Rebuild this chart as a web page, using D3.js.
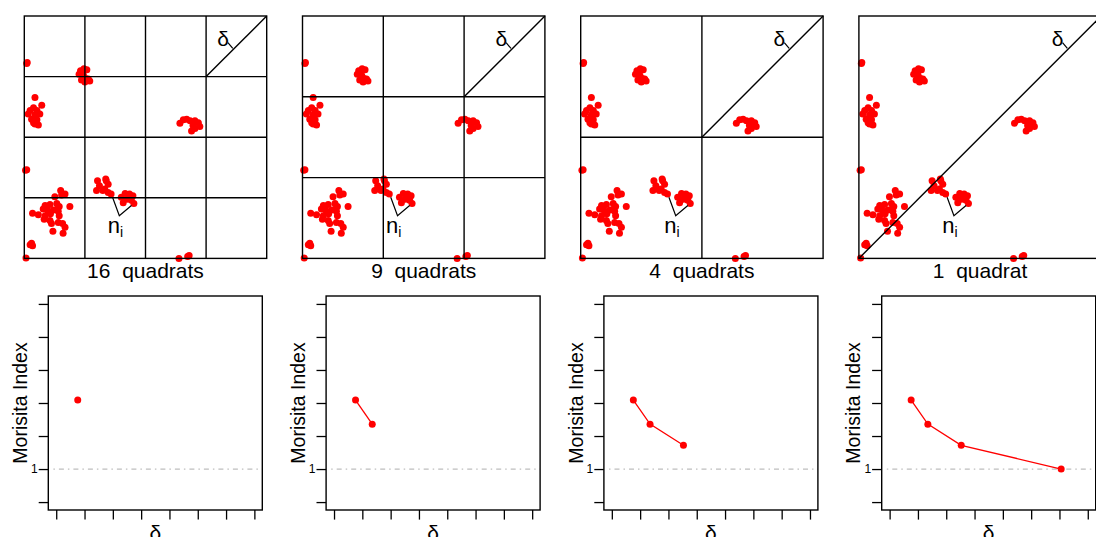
<!DOCTYPE html>
<html>
<head>
<meta charset="utf-8">
<script src="https://cdn.jsdelivr.net/npm/d3@7/dist/d3.min.js"></script>
<style>
  body { margin: 0; background: #fff; }
  svg { display: block; font-family: "Liberation Sans", Arial, sans-serif; }
  .title { white-space: pre; }
</style>
</head>
<body>
<svg id="chart" width="1096" height="537"></svg>
<script>
// quadrat sizes shown in each column
var quadratCounts = [16, 9, 4, 1];
var quadratLabels = ["16  quadrats", "9  quadrats", "4  quadrats", "1  quadrat"];

// point pattern (field is 5 x 5 units)
var ptsX = [0.06, 0.05,
  1.16, 1.23, 1.29, 1.13, 1.22, 1.27, 1.32, 1.18, 1.25, 1.35,
  0.22, 0.36, 0.19, 0.12, 0.26, 0.08, 0.22, 0.32, 0.15, 0.26, 0.22, 0.29, 0.19,
  0.05, 0.025,
  0.63, 0.75, 0.84, 0.77, 0.43, 0.53, 0.67, 0.72, 0.94, 0.39, 0.49, 0.60, 0.70, 0.17,
  0.29, 0.43, 0.54, 0.72, 0.41, 0.53, 0.56, 0.70, 0.79, 0.84, 0.59, 0.80, 0.68, 0.46,
  0.15, 0.17, 0.12, 0.035,
  1.51, 1.55, 1.66, 1.69, 1.62, 1.73, 1.79, 1.73, 1.49, 1.68,
  2.00, 2.08, 2.17, 2.24, 2.12, 2.04, 2.21, 2.26,
  3.21, 3.28, 3.35, 3.42, 3.52, 3.59, 3.62, 3.48, 3.45, 3.52,
  3.19, 3.37, 3.40];
var ptsY = [4.04, 4.02,
  3.87, 3.91, 3.89, 3.80, 3.78, 3.71, 3.70, 3.68, 3.64, 3.66,
  3.32, 3.16, 3.11, 3.05, 3.05, 2.98, 2.96, 2.98, 2.87, 2.86, 2.77, 2.75, 2.80,
  1.83, 1.82,
  1.27, 1.40, 1.33, 1.31, 1.09, 1.11, 1.13, 1.07, 1.07, 1.02, 0.98, 1.00, 0.97, 0.93,
  0.90, 0.88, 0.92, 0.88, 0.81, 0.78, 0.72, 0.74, 0.72, 0.64, 0.56, 0.52, 1.02, 1.04,
  0.31, 0.26, 0.28, 0.01,
  1.60, 1.50, 1.43, 1.60, 1.40, 1.36, 1.33, 1.53, 1.40, 1.64,
  1.26, 1.34, 1.33, 1.29, 1.22, 1.15, 1.20, 1.13,
  2.79, 2.86, 2.87, 2.84, 2.84, 2.80, 2.72, 2.74, 2.63, 2.68,
  0.0, 0.04, 0.06];

// quadrat diagonal (delta) and Morisita index for 16, 9, 4, 1 quadrats
var deltaValues = [1.76, 2.35, 3.53, 7.06];
var morisitaValues = [3.09, 2.36, 1.72, 1.0];

var xTickValues = [1, 2, 3, 4, 5, 6, 7, 8];
var yTickValues = [0, 1, 2, 3, 4, 5, 6];
var yTickLabels = ["", "1", "", "", "", "", ""];

var svg = d3.select("#chart");
var fieldSize = 5;
var topSize = 242.4, topY = 16;
var botSize = 214, botY = 296;

quadratCounts.forEach(function(n, i) {
  // ---------- top: point map with quadrat grid ----------
  var left = 24.3 + i * 278.2;
  var x = d3.scaleLinear().domain([0, fieldSize]).range([left, left + topSize]);
  var y = d3.scaleLinear().domain([0, fieldSize]).range([topY + topSize, topY]);
  var g = svg.append("g");

  var side = fieldSize / Math.sqrt(n);
  var cuts = d3.range(1, Math.sqrt(n)).map(function(k) { return k * side; });

  g.selectAll(".pt").data(ptsX).enter().append("circle")
    .attr("cx", function(d) { return x(d); })
    .attr("cy", function(d, j) { return y(ptsY[j]); })
    .attr("r", 3.5)
    .attr("fill", "#ff0000");

  g.selectAll(".vl").data(cuts).enter().append("line")
    .attr("x1", function(d) { return x(d); }).attr("x2", function(d) { return x(d); })
    .attr("y1", y(0)).attr("y2", y(fieldSize))
    .attr("stroke", "#000").attr("stroke-width", 1.4);
  g.selectAll(".hl").data(cuts).enter().append("line")
    .attr("y1", function(d) { return y(d); }).attr("y2", function(d) { return y(d); })
    .attr("x1", x(0)).attr("x2", x(fieldSize))
    .attr("stroke", "#000").attr("stroke-width", 1.4);

  // diagonal of the top-right quadrat
  g.append("line")
    .attr("x1", x(fieldSize - side)).attr("y1", y(fieldSize - side))
    .attr("x2", x(fieldSize)).attr("y2", y(fieldSize))
    .attr("stroke", "#000").attr("stroke-width", 1.4);

  g.append("rect")
    .attr("x", x(0)).attr("y", y(fieldSize))
    .attr("width", topSize).attr("height", topSize)
    .attr("fill", "none").attr("stroke", "#000").attr("stroke-width", 1.4);

  // delta annotation
  g.append("line")
    .attr("x1", x(4.2)).attr("y1", y(4.45)).attr("x2", x(4.3)).attr("y2", y(4.33))
    .attr("stroke", "#000").attr("stroke-width", 1.2);
  g.append("text")
    .attr("x", x(4.1)).attr("y", y(4.38))
    .attr("text-anchor", "middle").attr("font-size", 21)
    .text("δ");

  // n_i annotation
  g.append("path")
    .attr("d", "M" + x(1.82) + "," + y(1.26) + "L" + x(1.96) + "," + y(0.88) +
               "L" + x(2.21) + "," + y(1.09))
    .attr("fill", "none").attr("stroke", "#000").attr("stroke-width", 1.2);
  var nt = g.append("text")
    .attr("x", x(1.88)).attr("y", y(0.52))
    .attr("text-anchor", "middle").attr("font-size", 22);
  nt.append("tspan").text("n");
  nt.append("tspan").attr("font-size", 14).attr("dy", 4).text("i");

  g.append("text")
    .attr("class", "title")
    .attr("x", x(fieldSize / 2)).attr("y", 278)
    .attr("text-anchor", "middle").attr("font-size", 21)
    .text(quadratLabels[i]);

  // ---------- bottom: Morisita index vs delta ----------
  var bl = 48.3 + i * 277.8;
  var bx = d3.scaleLinear().domain([0.72, 8.28]).range([bl, bl + botSize]);
  var by = d3.scaleLinear().domain([-0.24, 6.24]).range([botY + botSize, botY]);
  var b = svg.append("g");

  b.append("g")
    .attr("transform", "translate(" + bl + ",0)")
    .call(d3.axisLeft(by).tickValues(yTickValues).tickSize(9.6).tickPadding(1)
      .tickFormat(function(d, j) { return yTickLabels[j]; }))
    .call(function(a) {
      a.select(".domain").remove();
      a.selectAll("line").attr("stroke-width", 1.3);
      a.selectAll("text").attr("font-size", 12).attr("fill", "#000")
        .attr("font-family", "Liberation Sans, Arial, sans-serif");
    });
  b.append("g")
    .attr("transform", "translate(0," + (botY + botSize) + ")")
    .call(d3.axisBottom(bx).tickValues(xTickValues).tickSize(9.6).tickFormat(""))
    .call(function(a) {
      a.select(".domain").remove();
      a.selectAll("line").attr("stroke-width", 1.3);
    });

  b.append("line")
    .attr("x1", bx(0.9)).attr("x2", bx(8.28))
    .attr("y1", by(1)).attr("y2", by(1))
    .attr("stroke", "#bebebe").attr("stroke-width", 1.2)
    .attr("stroke-dasharray", "1.5,4,5,4");

  var ds = d3.range(i + 1).map(function(k) { return [deltaValues[k], morisitaValues[k]]; });
  b.append("path")
    .datum(ds)
    .attr("d", d3.line().x(function(d) { return bx(d[0]); }).y(function(d) { return by(d[1]); }))
    .attr("fill", "none").attr("stroke", "#ff0000").attr("stroke-width", 1.3);
  b.selectAll(".mp").data(ds).enter().append("circle")
    .attr("cx", function(d) { return bx(d[0]); })
    .attr("cy", function(d) { return by(d[1]); })
    .attr("r", 3.5).attr("fill", "#ff0000");

  b.append("rect")
    .attr("x", bl).attr("y", botY).attr("width", botSize).attr("height", botSize)
    .attr("fill", "none").attr("stroke", "#000").attr("stroke-width", 1.4);

  b.append("text")
    .attr("transform", "translate(" + (bl - 21.3) + "," + (botY + botSize / 2) + ") rotate(-90)")
    .attr("text-anchor", "middle").attr("font-size", 19.5)
    .text("Morisita Index");

  b.append("text")
    .attr("x", bl + botSize / 2).attr("y", 540)
    .attr("text-anchor", "middle").attr("font-size", 21)
    .text("δ");
});
</script>
</body>
</html>
